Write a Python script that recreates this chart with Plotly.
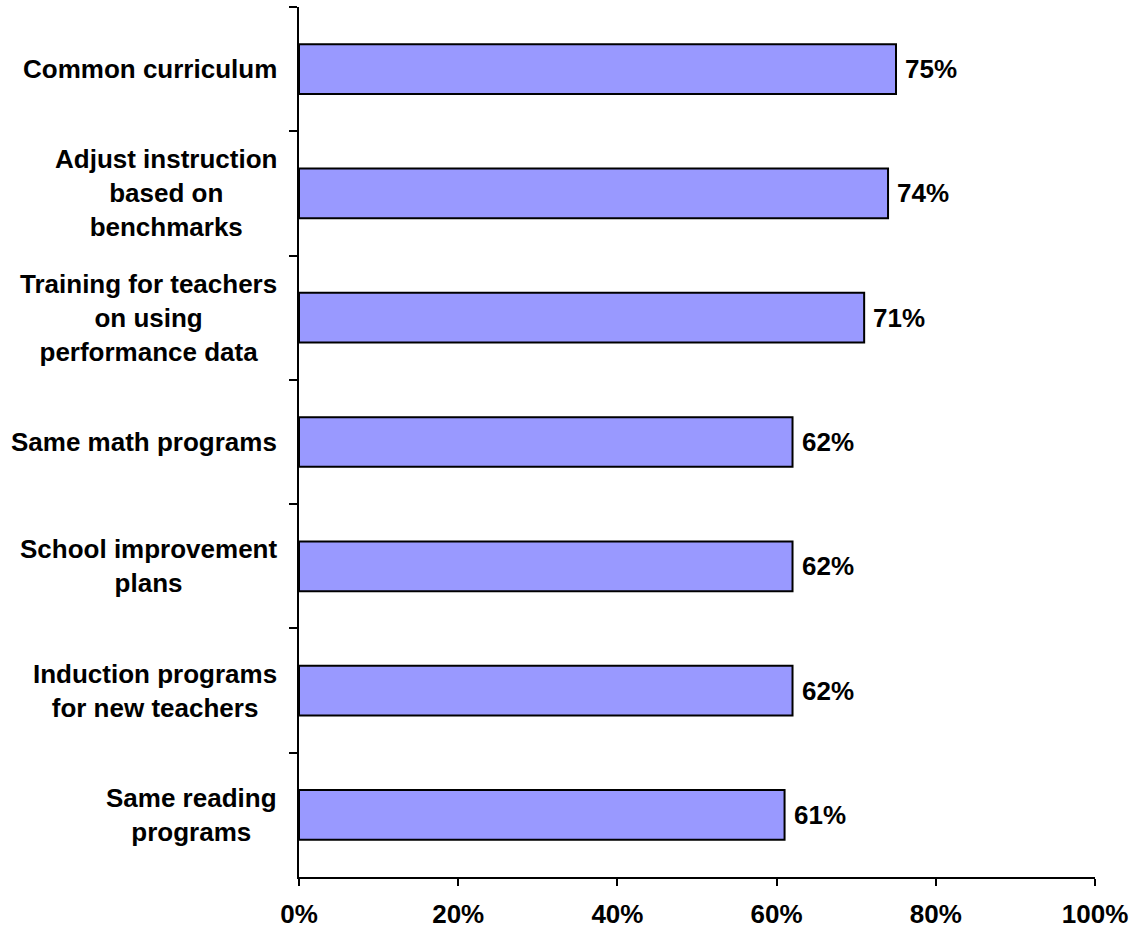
import plotly.graph_objects as go

# Share of respondents reporting each practice
categories = [
    "Common curriculum",
    "Adjust instruction<br>based on<br>benchmarks",
    "Training for teachers<br>on using<br>performance data",
    "Same math programs",
    "School improvement<br>plans",
    "Induction programs<br>for new teachers",
    "Same reading<br>programs",
]
values = [75, 74, 71, 62, 62, 62, 61]
x_ticks = [0, 20, 40, 60, 80, 100]

FONT = "Liberation Sans, Arial, sans-serif"
SIZE = 26

fig = go.Figure(
    go.Bar(
        y=categories,
        x=values,
        orientation="h",
        marker=dict(color="#9999FF", line=dict(color="black", width=2)),
        width=0.4,
        hoverinfo="x+y",
    )
)

# Value labels just past the end of each bar
for cat, v in zip(categories, values):
    fig.add_annotation(
        x=v, xref="x", xanchor="left", xshift=7,
        y=cat, yref="y", yanchor="middle",
        text=f"<b>{v}%</b>", showarrow=False,
        font=dict(family=FONT, size=SIZE, color="black"),
    )

# Centered multi-line category labels left of the axis
for cat in categories:
    fig.add_annotation(
        x=0, xref="paper", xanchor="right", xshift=-20,
        y=cat, yref="y", yanchor="middle",
        text=f"<b>{cat}</b>", showarrow=False, align="center",
        font=dict(family=FONT, size=SIZE, color="black"),
    )

fig.update_layout(
    width=1133, height=930,
    margin=dict(l=299, r=38, t=7, b=53),
    paper_bgcolor="white", plot_bgcolor="white",
    showlegend=False,
    font=dict(family=FONT, size=SIZE, color="black"),
    xaxis=dict(
        range=[0, 100], tickvals=x_ticks,
        ticktext=[f"<b>{t}%</b>" for t in x_ticks],
        showgrid=False, zeroline=False, automargin=False,
        showline=True, linecolor="black", linewidth=2,
        ticks="outside", ticklen=7, tickwidth=2, tickcolor="black",
        ticklabelstandoff=6,
        tickfont=dict(family=FONT, size=SIZE, color="black"),
    ),
    yaxis=dict(
        categoryorder="array", categoryarray=categories,
        autorange="reversed", automargin=False,
        showticklabels=False, showgrid=False, zeroline=False,
        showline=True, linecolor="black", linewidth=2,
        ticks="outside", ticklen=8, tickwidth=2, tickcolor="black",
        tickson="boundaries",
    ),
)

fig.write_html("out.html")
